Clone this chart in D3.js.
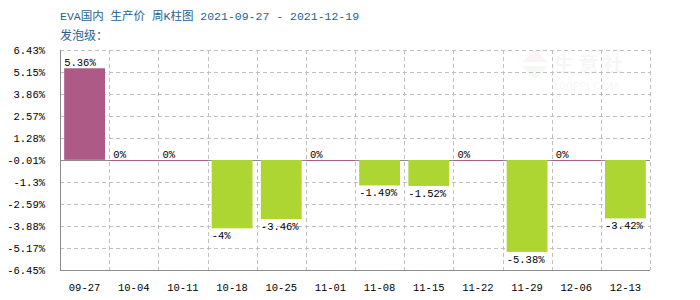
<!DOCTYPE html>
<html>
<head>
<meta charset="utf-8">
<script src="https://cdn.jsdelivr.net/npm/d3@7"></script>
<style>
  body { margin: 0; background: #fff; }
  svg { display: block; }
  text { font-family: "Liberation Mono", "DejaVu Sans Mono", "Noto Sans CJK SC", monospace; }
</style>
</head>
<body>
<div id="chart"></div>
<script>
// chart data
var weeks = ["09-27","10-04","10-11","10-18","10-25","11-01","11-08","11-15","11-22","11-29","12-06","12-13"];
var changes = [5.36, 0, 0, -4, -3.46, 0, -1.49, -1.52, 0, -5.38, 0, -3.42];
var valueLabels = ["5.36%","0%","0%","-4%","-3.46%","0%","-1.49%","-1.52%","0%","-5.38%","0%","-3.42%"];
var yTicks = [6.43, 5.15, 3.86, 2.57, 1.28, -0.01, -1.3, -2.59, -3.88, -5.17, -6.45];
var titleText = "EVA国内 生产价 周K柱图 2021-09-27 - 2021-12-19";
var subTitle = "发泡级：";

var width = 700, height = 300;
var margin = {top: 50, right: 50, bottom: 30, left: 60};
var innerW = width - margin.left - margin.right;
var innerH = height - margin.top - margin.bottom;

var upColor = "#ad5a86", downColor = "#add633", gridColor = "#c0c0c0", axisColor = "#8c8c8c";

var svg = d3.select("#chart").append("svg")
	.attr("width", width)
	.attr("height", height);

// title
svg.append("text")
	.attr("x", 60).attr("y", 20)
	.style("font-size", "11.5px")
	.style("fill", "#1f5f8f")
	.text(titleText);
svg.append("text")
	.attr("x", 60).attr("y", 40)
	.style("font-size", "12px")
	.style("fill", "#1f5f8f")
	.text(subTitle);

var g = svg.append("g")
	.attr("transform", "translate(" + margin.left + "," + margin.top + ")");

var x = d3.scaleBand()
	.domain(weeks)
	.range([0, innerW])
	.paddingInner(0.17)
	.paddingOuter(0.085);

var y = d3.scaleLinear()
	.domain([yTicks[yTicks.length - 1], yTicks[0]])
	.range([innerH, 0]);

var step = x.step();

// watermark, very faint
var wm = g.append("g").attr("transform", "translate(" + (innerW - 128) + ",0)").style("opacity", 0.04);
wm.append("path").attr("d", "M0,12 L13,0 L26,12 Z").style("fill", "#c00");
wm.append("path").attr("d", "M0,16 L26,16 L13,30 Z").style("fill", "#080");
wm.append("text").attr("x", 32).attr("y", 22).style("font-size", "20px").style("font-weight", "bold")
	.style("fill", "#336").style("font-family", "Noto Sans CJK SC").text("生 意 社");
wm.append("text").attr("x", 30).attr("y", 40).style("font-size", "11px")
	.style("fill", "#336").style("font-family", "DejaVu Sans").text("100PPI.COM");

// horizontal grid
g.selectAll(".hgrid")
	.data(yTicks.slice(0, yTicks.length - 1))
	.enter().append("line")
	.attr("x1", 0).attr("x2", innerW)
	.attr("y1", function(d) { return Math.round(y(d)) + 0.5; })
	.attr("y2", function(d) { return Math.round(y(d)) + 0.5; })
	.style("stroke", gridColor)
	.style("stroke-dasharray", "4,3");

// vertical grid
g.selectAll(".vgrid")
	.data(d3.range(1, weeks.length + 1))
	.enter().append("line")
	.attr("x1", function(i) { return Math.round(i * step) + 0.5; })
	.attr("x2", function(i) { return Math.round(i * step) + 0.5; })
	.attr("y1", 0).attr("y2", innerH)
	.style("stroke", gridColor)
	.style("stroke-dasharray", "4,3");

// zero line
var y0 = Math.round(y(0));
g.append("line")
	.attr("x1", 0).attr("x2", innerW)
	.attr("y1", y0 + 0.5).attr("y2", y0 + 0.5)
	.style("stroke", axisColor);

// bars (zero weeks drawn as a thin line across the column)
g.selectAll(".bar")
	.data(changes)
	.enter().append("rect")
	.attr("x", function(d, i) { return d === 0 ? i * step : x(weeks[i]); })
	.attr("y", function(d) { return d > 0 ? y(d) : y0; })
	.attr("width", function(d) { return d === 0 ? step : x.bandwidth(); })
	.attr("height", function(d) { return d === 0 ? 1 : Math.abs(y(d) - y(0)); })
	.style("fill", function(d) { return d >= 0 ? upColor : downColor; });

// value labels
g.selectAll(".vlabel")
	.data(changes)
	.enter().append("text")
	.attr("x", function(d, i) { return x(weeks[i]); })
	.attr("y", function(d) { return d >= 0 ? y(d) - 2 : y(d) + 11; })
	.style("font-size", "10.5px")
	.style("fill", "#000")
	.text(function(d, i) { return valueLabels[i]; });

// axes lines
g.append("line")
	.attr("x1", 0.5).attr("x2", 0.5).attr("y1", 0).attr("y2", innerH)
	.style("stroke", axisColor);
g.append("line")
	.attr("x1", 0).attr("x2", innerW).attr("y1", innerH + 0.5).attr("y2", innerH + 0.5)
	.style("stroke", axisColor);

// y tick labels
g.selectAll(".ytick")
	.data(yTicks)
	.enter().append("text")
	.attr("x", -15)
	.attr("y", function(d) { return y(d) + 4; })
	.attr("text-anchor", "end")
	.style("font-size", "10.5px")
	.text(function(d) { return d + "%"; });

// x tick labels
g.selectAll(".xtick")
	.data(weeks)
	.enter().append("text")
	.attr("x", function(d) { return x(d) + x.bandwidth() / 2; })
	.attr("y", innerH + 21)
	.attr("text-anchor", "middle")
	.style("font-size", "10.5px")
	.text(function(d) { return d; });
</script>
</body>
</html>
